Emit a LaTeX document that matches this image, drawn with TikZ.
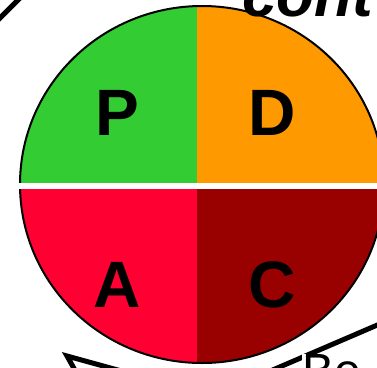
\documentclass[tikz,border=0pt]{standalone}
\usepackage{fontspec}
\setmainfont{Liberation Sans}
\definecolor{pgreen}{HTML}{33CC33}
\definecolor{dorange}{HTML}{FF9900}
\definecolor{ared}{HTML}{FF0033}
\definecolor{cdark}{HTML}{990000}
\begin{document}
\begin{tikzpicture}[x=1pt,y=-1pt,
  letter/.style={font=\fontsize{65.6}{70}\selectfont\bfseries, inner sep=0pt, anchor=base},
  outline/.style={draw=black, line width=2pt},
  thickline/.style={draw=black, line width=5pt}]
\useasboundingbox (0,0) rectangle (377,367);
\begin{scope}
\clip (0,0) rectangle (377,367);
\begin{scope}
\clip (202,184.5) ellipse [x radius=182pt, y radius=178.5pt];
\fill[pgreen] (0,0) rectangle (196.5,185.5);
\fill[dorange] (196.5,0) rectangle (400,185.5);
\fill[ared] (0,185.5) rectangle (196.5,370);
\fill[cdark] (196.5,185.5) rectangle (400,370);
\end{scope}
\draw[outline] (202,184.5) ellipse [x radius=182pt, y radius=178.5pt];
\fill[white] (0,182.5) rectangle (377,188.5);
\node[letter] (p) at (117,135) {P};
\node[letter] (d) at (272,135) {D};
\node[letter] (a) at (117,307) {A};
\node[letter] (c) at (272,307) {C};
\node[font=\fontsize{62}{66}\selectfont\bfseries\itshape, inner sep=0pt, anchor=base west] (top) at (242,16) {cont};
\coordinate (tl1) at (-2,20);
\coordinate (tl2) at (20,-2);
\draw[thickline] (tl1) -- (tl2);
\coordinate (bl1) at (76,372);
\coordinate (bl2) at (67,356);
\coordinate (bl3) at (125,372);
\draw[thickline, line join=miter] (bl1) -- (bl2) -- (bl3);
\coordinate (br1) at (382,323);
\coordinate (br2) at (268,372);
\draw[thickline] (br1) -- (br2);
\node[fill=white, font=\fontsize{48}{52}\selectfont, inner sep=0pt, anchor=base west] (be) at (302,387) {Be};
\end{scope}
\end{tikzpicture}
\end{document}
